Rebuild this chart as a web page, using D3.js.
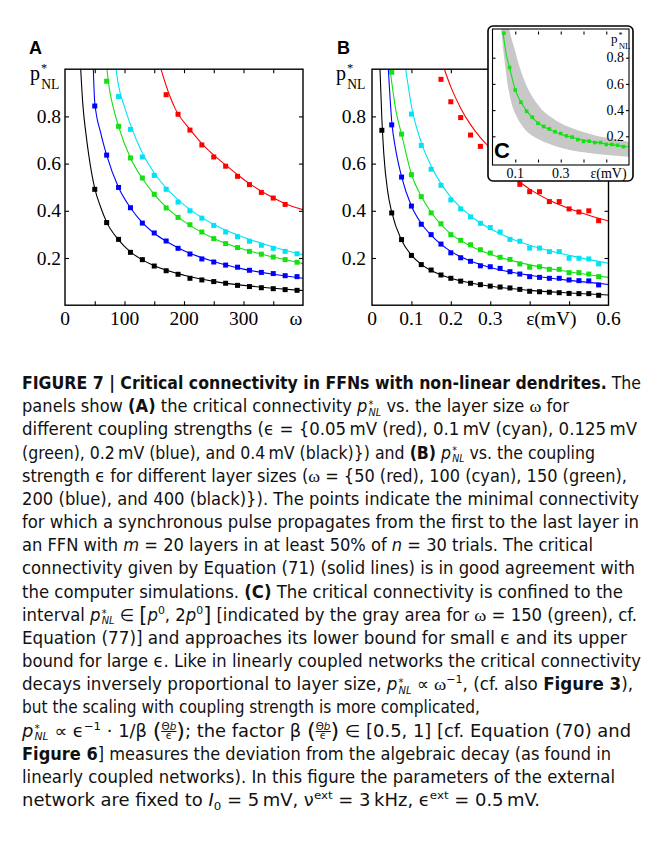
<!DOCTYPE html>
<html><head><meta charset="utf-8">
<script src="https://cdn.jsdelivr.net/npm/d3@7"></script>
<style>
body{margin:0;background:#fff;width:658px;height:858px;overflow:hidden;position:relative;}
svg{position:absolute;left:0;top:0;}
#cap{position:absolute;left:22px;top:0;font-family:"Liberation Sans Narrow","DejaVu Sans Condensed","Liberation Sans",Arial,sans-serif;font-stretch:condensed;font-size:17px;color:#111;}
#cap .ln{position:absolute;left:0;white-space:nowrap;height:23px;line-height:23px;transform-origin:0 50%;}
#cap sup,#cap sub{font-size:0.66em;line-height:0;}
#cap .ss{display:inline-block;vertical-align:-0.34em;line-height:0.74;font-size:0.6em;margin-left:1px;}
#cap .ss>span{display:block;}
#cap .g{font-family:"Liberation Serif",serif;}
#cap .fr{display:inline-block;vertical-align:-0.28em;line-height:0.88;font-size:0.58em;text-align:center;}
#cap .fr>span{display:block;}
#cap .fr>span:first-child{border-bottom:0.8px solid #111;}
#cap .bp{font-size:1.25em;font-weight:300;vertical-align:-0.06em;line-height:0;}
</style>
</head><body>
<script>
// ---------- Panel A: p*_NL vs layer size omega ----------
const aRedW = [170,190,210,230,250,270,290,310,330,350,370];
const aRedP = [0.892,0.809,0.742,0.679,0.628,0.589,0.546,0.511,0.478,0.454,0.427];
const aCyanW = [90,110,130,150,170,190,210,230,250,270,290,310,330,350,370,390];
const aCyanP = [0.884,0.745,0.628,0.550,0.491,0.437,0.400,0.369,0.338,0.310,0.290,0.271,0.254,0.241,0.228,0.218];
const aGreenW = [70,90,110,130,150,170,190,210,230,250,270,290,310,330,350,370,390];
const aGreenP = [0.949,0.758,0.624,0.539,0.470,0.412,0.372,0.341,0.310,0.282,0.261,0.244,0.228,0.216,0.204,0.193,0.182];
const aBlueW = [50,70,90,110,130,150,170,190,210,230,250,270,290,310,330,350,370,390];
const aBlueP = [0.844,0.636,0.499,0.413,0.348,0.306,0.272,0.241,0.217,0.196,0.183,0.170,0.161,0.148,0.139,0.134,0.125,0.121];
const aBlackW = [50,70,90,110,130,150,170,190,210,230,250,270,290,310,330,350,370,390];
const aBlackP = [0.491,0.350,0.279,0.224,0.193,0.166,0.146,0.131,0.114,0.107,0.100,0.093,0.084,0.079,0.074,0.070,0.066,0.063];
// theory lines (Eq. 71)
const aRedLineW = [161.3,170,185,210,230,250,270,290,310,330,350,370,400];
const aRedLineP = [1.0,0.93,0.834,0.745,0.685,0.636,0.594,0.553,0.515,0.483,0.455,0.430,0.405];
const aCyanLineW = [85.7,90,100,110,130,150,170,200,250,300,350,400];
const aCyanLineP = [1.0,0.93,0.84,0.765,0.645,0.560,0.497,0.425,0.342,0.288,0.247,0.214];
const aGreenLineW = [70.5,75,80,90,110,130,150,170,200,250,300,350,400];
const aGreenLineP = [1.0,0.91,0.85,0.758,0.624,0.537,0.470,0.416,0.355,0.283,0.237,0.204,0.176];
const aBlueLineW = [47.6,50,60,70,90,110,130,150,170,200,250,300,350,400];
const aBlueLineP = [1.0,0.86,0.73,0.636,0.499,0.413,0.350,0.305,0.271,0.231,0.185,0.153,0.131,0.114];
const aBlackLineW = [26.4,30,35,40,50,60,70,90,110,130,150,200,250,300,350,400];
const aBlackLineP = [1.0,0.85,0.73,0.635,0.495,0.415,0.352,0.277,0.226,0.192,0.167,0.127,0.101,0.084,0.072,0.062];
const aXTicks = [50,100,150,200,250,300,350];
const aXLabels = [0,100,200,300];

// ---------- Panel B: p*_NL vs coupling strength epsilon ----------
const bRedE = [0.175,0.2,0.225,0.25,0.275,0.3,0.325,0.35,0.375,0.4,0.425,0.45,0.475,0.5,0.525,0.55,0.575];
const bRedP = [0.957,0.862,0.795,0.721,0.673,0.63,0.59,0.55,0.512,0.481,0.481,0.439,0.439,0.408,0.395,0.400,0.358];
const bCyanE = [0.1,0.125,0.15,0.175,0.2,0.225,0.25,0.275,0.3,0.325,0.35,0.375,0.4,0.425,0.45,0.475,0.5,0.525,0.55,0.575];
const bCyanP = [0.810,0.677,0.576,0.508,0.446,0.408,0.374,0.347,0.329,0.310,0.279,0.271,0.242,0.242,0.227,0.227,0.199,0.199,0.196,0.175];
const bGreenE = [0.05,0.075,0.1,0.125,0.15,0.175,0.2,0.225,0.25,0.275,0.3,0.325,0.35,0.375,0.4,0.425,0.45,0.475,0.5,0.525,0.55,0.575];
const bGreenP = [0.987,0.725,0.553,0.460,0.391,0.345,0.299,0.275,0.256,0.235,0.221,0.203,0.194,0.175,0.161,0.163,0.152,0.152,0.138,0.138,0.132,0.121];
const bBlueE = [0.05,0.075,0.1,0.125,0.15,0.175,0.2,0.225,0.25,0.275,0.3,0.325,0.35,0.375,0.4,0.425,0.45,0.475,0.5,0.525,0.55,0.575];
const bBlueP = [0.764,0.543,0.420,0.343,0.299,0.259,0.222,0.201,0.186,0.167,0.163,0.156,0.142,0.132,0.121,0.118,0.114,0.114,0.107,0.104,0.103,0.086];
const bBlackE = [0.025,0.05,0.075,0.1,0.125,0.15,0.175,0.2,0.225,0.25,0.275,0.3,0.325,0.35,0.375,0.4,0.425,0.45,0.475,0.5,0.525,0.55,0.575];
const bBlackP = [0.741,0.391,0.278,0.211,0.172,0.149,0.128,0.114,0.102,0.093,0.087,0.081,0.077,0.073,0.067,0.059,0.057,0.055,0.053,0.050,0.049,0.049,0.042];
const bRedLineE = [0.1835,0.2,0.225,0.25,0.275,0.3,0.325,0.35,0.375,0.4,0.45,0.5,0.55,0.6];
const bRedLineP = [1.0,0.925,0.835,0.765,0.71,0.665,0.615,0.565,0.522,0.492,0.445,0.41,0.381,0.357];
const bCyanLineE = [0.0855,0.1,0.125,0.15,0.175,0.2,0.25,0.3,0.35,0.4,0.5,0.6];
const bCyanLineP = [1.0,0.845,0.69,0.59,0.515,0.458,0.378,0.324,0.284,0.254,0.211,0.178];
const bGreenLineE = [0.0457,0.05,0.06,0.075,0.1,0.125,0.15,0.2,0.25,0.3,0.35,0.4,0.5,0.6];
const bGreenLineP = [1.0,0.945,0.83,0.725,0.555,0.462,0.394,0.302,0.251,0.216,0.191,0.171,0.142,0.118];
const bBlueLineE = [0.0415,0.05,0.06,0.075,0.1,0.125,0.15,0.2,0.25,0.3,0.35,0.4,0.5,0.6];
const bBlueLineP = [1.0,0.78,0.66,0.545,0.42,0.346,0.297,0.228,0.187,0.160,0.141,0.127,0.105,0.088];
const bBlackLineE = [0.0203,0.025,0.03,0.04,0.05,0.075,0.1,0.125,0.15,0.2,0.25,0.3,0.35,0.4,0.5,0.6];
const bBlackLineP = [1.0,0.79,0.64,0.48,0.395,0.275,0.212,0.173,0.147,0.114,0.094,0.080,0.071,0.063,0.052,0.043];
const bXTicks = [0.1,0.2,0.3,0.4,0.5];
const bXLabels = [0,0.1,0.2,0.3,0.6];
const yTicks = [0.2,0.4,0.6,0.8];

// ---------- Panel C (inset): bounds p0 .. 2p0 for omega = 150 ----------
const cLowerE = [0.037,0.039,0.0565,0.071,0.097,0.148,0.2,0.3,0.4,0.5,0.6];
const cLowerP = [1.05,1.0,0.729,0.551,0.383,0.243,0.18,0.113,0.078,0.057,0.042];
const cUpperE = [0.074,0.076,0.1,0.119,0.159,0.2,0.229,0.3,0.382,0.5,0.6];
const cUpperP = [1.05,1.0,0.85,0.729,0.551,0.44,0.383,0.30,0.243,0.188,0.158];
const cXLabels = [0.1,0.3];

const COL = {red:"#ff0000", cyan:"#00e3f5", green:"#14e014", blue:"#0000ff", black:"#000000"};
const zip = (xs, ys) => xs.map((x,i)=>[x, ys[i]]);

const seriesA = [
  {c:COL.red, pts:zip(aRedW,aRedP), line:zip(aRedLineW,aRedLineP)},
  {c:COL.cyan, pts:zip(aCyanW,aCyanP), line:zip(aCyanLineW,aCyanLineP)},
  {c:COL.green, pts:zip(aGreenW,aGreenP), line:zip(aGreenLineW,aGreenLineP)},
  {c:COL.blue, pts:zip(aBlueW,aBlueP), line:zip(aBlueLineW,aBlueLineP)},
  {c:COL.black, pts:zip(aBlackW,aBlackP), line:zip(aBlackLineW,aBlackLineP)}
];
const seriesB = [
  {c:COL.red, pts:zip(bRedE,bRedP), line:zip(bRedLineE,bRedLineP)},
  {c:COL.cyan, pts:zip(bCyanE,bCyanP), line:zip(bCyanLineE,bCyanLineP)},
  {c:COL.green, pts:zip(bGreenE,bGreenP), line:zip(bGreenLineE,bGreenLineP)},
  {c:COL.blue, pts:zip(bBlueE,bBlueP), line:zip(bBlueLineE,bBlueLineP)},
  {c:COL.black, pts:zip(bBlackE,bBlackP), line:zip(bBlackLineE,bBlackLineP)}
];

const svg = d3.select("body").append("svg").attr("width",658).attr("height",380);
const SERIF = "'Liberation Serif','Times New Roman',serif";
const SANS = "'Liberation Sans',Arial,sans-serif";

function frameAxes(g, x, y, xt, yt, ts){
  const [x0,x1] = x.range(), [y0,y1] = y.range();
  const mk = (ax, tr) => g.append("g").attr("transform", tr).call(ax).call(s=>{s.select(".domain").remove(); s.selectAll("text").remove(); s.selectAll("line").attr("stroke","#000").attr("stroke-width",1.1);});
  mk(d3.axisBottom(x).tickValues(xt).tickSize(-ts), `translate(0,${y0})`);
  mk(d3.axisTop(x).tickValues(xt).tickSize(-ts), `translate(0,${y1})`);
  mk(d3.axisLeft(y).tickValues(yt).tickSize(-ts), `translate(${x0},0)`);
  mk(d3.axisRight(y).tickValues(yt).tickSize(-ts), `translate(${x1},0)`);
}

function plotSeries(g, x, y, series, clipId, sq, lw){
  const line = d3.line().x(d=>x(d[0])).y(d=>y(d[1])).curve(d3.curveMonotoneX);
  const cg = g.append("g").attr("clip-path", `url(#${clipId})`);
  series.forEach(s=>{
    cg.append("path").attr("d", line(s.line)).attr("fill","none").attr("stroke",s.c).attr("stroke-width",lw);
  });
  series.forEach(s=>{
    cg.selectAll(null).data(s.pts).join("rect")
      .attr("x",d=>x(d[0])-sq/2).attr("y",d=>y(d[1])-sq/2).attr("width",sq).attr("height",sq).attr("fill",s.c);
  });
}

function pLabel(g, xp, yb, fs){
  const t = g.append("text").attr("x",xp).attr("y",yb).attr("font-family",SERIF).attr("font-size",fs);
  t.append("tspan").text("p");
  t.append("tspan").attr("font-size",fs*0.62).attr("dy",-fs*0.42).attr("dx",1).text("*");
  t.append("tspan").attr("font-size",fs*0.68).attr("dy",fs*0.85).attr("dx",-fs*0.3).text("NL");
}

const defs = svg.append("defs");
function addClip(id, x, y){
  const [x0,x1]=x.range(), [y0,y1]=y.range();
  defs.append("clipPath").attr("id",id).append("rect").attr("x",x0).attr("y",y1).attr("width",x1-x0).attr("height",y0-y1);
}

// ----- Panel A -----
const xA = d3.scaleLinear().domain([0,400]).range([65,303]);
const yA = d3.scaleLinear().domain([0,1]).range([305.2,69.2]);
addClip("clipA", xA, yA);
const gA = svg.append("g");
plotSeries(gA, xA, yA, seriesA, "clipA", 5, 1.1);
gA.append("rect").attr("x",65).attr("y",69.2).attr("width",238).attr("height",236).attr("fill","none").attr("stroke","#000").attr("stroke-width",1.4);
frameAxes(gA, xA, yA, aXTicks, yTicks, 4);
gA.selectAll(".yl").data(yTicks).join("text").attr("x",61).attr("y",d=>yA(d)).attr("dy","0.34em").attr("text-anchor","end")
  .attr("font-family",SERIF).attr("font-size",19.5).text(d=>d.toFixed(1));
gA.selectAll(".xl").data(aXLabels).join("text").attr("x",d=>xA(d)).attr("y",325).attr("text-anchor","middle")
  .attr("font-family",SERIF).attr("font-size",19.5).text(d=>d);
gA.append("text").attr("x",xA(388)).attr("y",325).attr("text-anchor","middle").attr("font-family",SERIF).attr("font-size",19.5).text("ω");
pLabel(gA, 30, 80, 20);
gA.append("text").attr("x",29).attr("y",54).attr("font-family",SANS).attr("font-weight","bold").attr("font-size",18).text("A");

// ----- Panel B -----
const xB = d3.scaleLinear().domain([0,0.6]).range([372,608.5]);
const yB = d3.scaleLinear().domain([0,1]).range([305.2,69.2]);
addClip("clipB", xB, yB);
const gB = svg.append("g");
plotSeries(gB, xB, yB, seriesB, "clipB", 5, 1.1);
gB.append("rect").attr("x",372).attr("y",69.2).attr("width",236.5).attr("height",236).attr("fill","none").attr("stroke","#000").attr("stroke-width",1.4);
frameAxes(gB, xB, yB, bXTicks, yTicks, 4);
gB.selectAll(".yl").data(yTicks).join("text").attr("x",366).attr("y",d=>yB(d)).attr("dy","0.34em").attr("text-anchor","end")
  .attr("font-family",SERIF).attr("font-size",19.5).text(d=>d.toFixed(1));
gB.selectAll(".xl").data(bXLabels).join("text").attr("x",d=>xB(d)).attr("y",325).attr("text-anchor","middle")
  .attr("font-family",SERIF).attr("font-size",19.5).text(d=>d===0?"0":d.toFixed(1));
gB.append("text").attr("x",xB(0.455)).attr("y",325).attr("text-anchor","middle").attr("font-family",SERIF).attr("font-size",19.5).text("ε(mV)");
pLabel(gB, 336, 80, 20);
gB.append("text").attr("x",337).attr("y",54).attr("font-family",SANS).attr("font-weight","bold").attr("font-size",18).text("B");

// ----- Inset C -----
const gC = svg.append("g");
gC.append("rect").attr("x",488).attr("y",26).attr("width",145).attr("height",155).attr("rx",5)
  .attr("fill","#fff").attr("stroke","#000").attr("stroke-width",1.6);
const xC = d3.scaleLinear().domain([0,0.6]).range([492.5,629]);
const yC = d3.scaleLinear().domain([0,1]).range([162.5,31.5]);
defs.append("clipPath").attr("id","clipC").append("rect").attr("x",492.5).attr("y",29).attr("width",136.5).attr("height",136);
const edge = d3.line().x(d=>xC(d[0])).y(d=>yC(d[1])).curve(d3.curveCatmullRom.alpha(0.5));
const upPath = edge(zip(cUpperE,cUpperP));
const lowPath = edge(zip(cLowerE,cLowerP).reverse());
gC.append("g").attr("clip-path","url(#clipC)").append("path")
  .attr("d", upPath + "L" + lowPath.slice(1) + "Z").attr("fill","#c8c8c8").attr("stroke","none");
plotSeries(gC, xC, yC, [seriesB[2]], "clipC", 3.6, 1.1);
gC.append("rect").attr("x",492.5).attr("y",29).attr("width",136.5).attr("height",136).attr("fill","none").attr("stroke","#000").attr("stroke-width",1.1);
frameAxes(gC, xC, yC, bXTicks, yTicks, 3);
gC.selectAll(".yl").data(yTicks).join("text").attr("x",624).attr("y",d=>yC(d)).attr("dy","0.34em").attr("text-anchor","end")
  .attr("font-family",SERIF).attr("font-size",14).text(d=>d.toFixed(1));
gC.selectAll(".xl").data(cXLabels).join("text").attr("x",d=>xC(d)).attr("y",178).attr("text-anchor","middle")
  .attr("font-family",SERIF).attr("font-size",14).text(d=>d.toFixed(1));
gC.append("text").attr("x",xC(0.51)).attr("y",178).attr("text-anchor","middle").attr("font-family",SERIF).attr("font-size",14).text("ε(mV)");
pLabel(gC, 611, 43, 13);
gC.append("text").attr("x",494).attr("y",158).attr("font-family",SANS).attr("font-weight","bold").attr("font-size",22).text("C");

// ----- Caption -----
const P = '<i>p</i><span class="ss"><span>*</span><span><i>NL</i></span></span>';
const FR = '<span class="bp">(</span><span class="fr"><span>Θ<i>b</i></span><span>ϵ</span></span><span class="bp">)</span>';
const captionLines = [
  '<b>FIGURE 7 | Critical connectivity in FFNs with non-linear dendrites.</b> The',
  'panels show <b>(A)</b> the critical connectivity '+P+' vs. the layer size <span class="g">ω</span> for',
  'different coupling strengths (ϵ = {0.05&#8201;mV (red), 0.1&#8201;mV (cyan), 0.125&#8201;mV',
  '(green), 0.2&#8201;mV (blue), and 0.4&#8201;mV (black)}) and <b>(B)</b> '+P+' vs. the coupling',
  'strength ϵ for different layer sizes (<span class="g">ω</span> = {50 (red), 100 (cyan), 150 (green),',
  '200 (blue), and 400 (black)}). The points indicate the minimal connectivity',
  'for which a synchronous pulse propagates from the first to the last layer in',
  'an FFN with <i>m</i> = 20 layers in at least 50% of <i>n</i> = 30 trials. The critical',
  'connectivity given by Equation (71) (solid lines) is in good agreement with',
  'the computer simulations. <b>(C)</b> The critical connectivity is confined to the',
  'interval '+P+' ∈ <span class="bp">[</span><i>p</i><sup>0</sup>, 2<i>p</i><sup>0</sup><span class="bp">]</span> [indicated by the gray area for <span class="g">ω</span> = 150 (green), cf.',
  'Equation (77)] and approaches its lower bound for small ϵ and its upper',
  'bound for large ϵ. Like in linearly coupled networks the critical connectivity',
  'decays inversely proportional to layer size, '+P+' ∝ <span class="g">ω</span><sup>−1</sup>, (cf. also <b>Figure 3</b>),',
  'but the scaling with coupling strength is more complicated,',
  P+' ∝ ϵ<sup>−1</sup> · 1/β '+FR+'; the factor β '+FR+' ∈ [0.5, 1] [cf. Equation (70) and',
  '<b>Figure 6</b>] measures the deviation from the algebraic decay (as found in',
  'linearly coupled networks). In this figure the parameters of the external',
  'network are fixed to <i>I</i><sub>0</sub> = 5&#8201;mV, ν<sup>ext</sup> = 3&#8201;kHz, ϵ<sup>ext</sup> = 0.5&#8201;mV.'
];
// right edge of each caption line in the reference (layout)
const captionRight = [641,569,637,595,627,639,639,593,635,623,637,627,641,633,480,631,611,615,540];
const cap = d3.select("body").append("div").attr("id","cap");
const lines = cap.selectAll("div").data(captionLines).join("div").attr("class","ln")
  .style("top",(d,i)=>(372 + i*23.17)+"px");
lines.append("span").html(d=>d);
lines.each(function(d,i){
  const w = d3.select(this).select("span").node().getBoundingClientRect().width;
  const sc = (captionRight[i]-22)/w;
  d3.select(this).style("transform",`scaleX(${sc})`);
});
</script>
</body></html>
